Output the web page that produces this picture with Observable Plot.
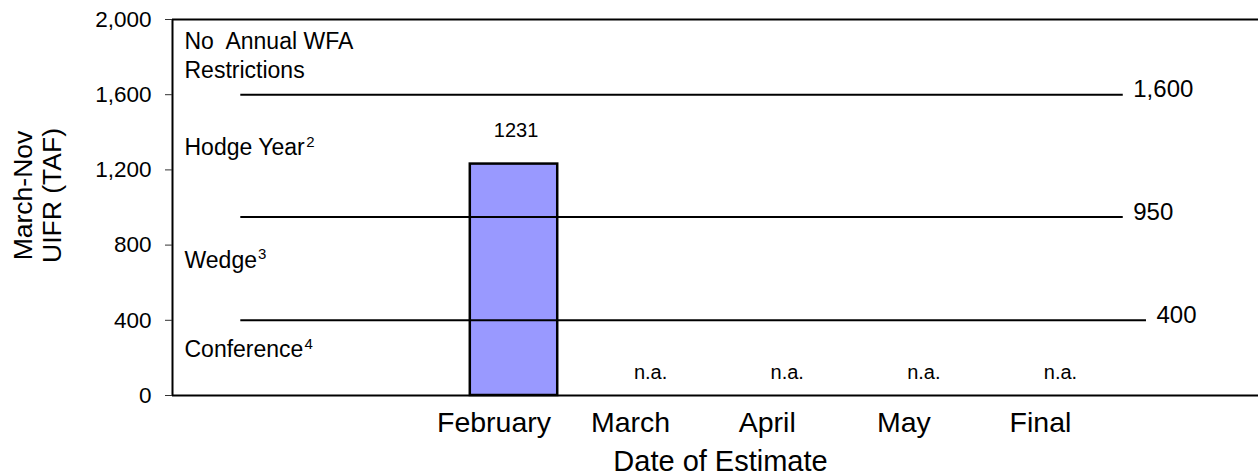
<!DOCTYPE html>
<html><head><meta charset="utf-8">
<script src="https://cdn.jsdelivr.net/npm/d3@7"></script>
<script src="https://cdn.jsdelivr.net/npm/@observablehq/plot@0.6"></script>
<style>
html,body{margin:0;padding:0;background:#fff;}
svg text{white-space:pre;}
</style></head><body><div id="chart"></div>
<script>
const categories = ["February", "March", "April", "May", "Final"];
const values = [1231, null, null, null, null];
const thresholds = [1600, 950, 400];
const zoneLabels = ["No  Annual WFA\nRestrictions", "Hodge Year", "Wedge", "Conference"];
const zoneNotes = ["", "2", "3", "4"];
const yTicks = [0, 400, 800, 1200, 1600, 2000];
const yTitle = "March-Nov\nUIFR (TAF)";
const xTitle = "Date of Estimate";
const naText = "n.a.";

const lead = 2; // empty slots before the first category
const slot = i => lead + i;
const data = categories.map((c, i) => ({category: c, x: slot(i), value: values[i]}));
const bounds = [2000, ...thresholds, 0];
const font = "'Liberation Sans', Arial, Helvetica, sans-serif";
const labelSize = 23;
const ctx = document.createElement("canvas").getContext("2d");
ctx.font = `${labelSize}px ${font}`;
const zones = zoneLabels.map((label, i) => ({
  label, note: zoneNotes[i], mid: (bounds[i] + bounds[i + 1]) / 2,
  w: ctx.measureText(label).width
}));
const fmt = d3.format(",");
const halfBar = 0.32;
const lineStart = 0;
const lastSlot = slot(categories.length - 1);
// the lowest reference line runs a little further right than the others
const lineEnd = v => lastSlot + (v === 400 ? 0.63 : 0.46);

const chart = Plot.plot({
  width: 1258, height: 476,
  marginLeft: 172, marginRight: 0, marginTop: 19, marginBottom: 81,
  style: {fontFamily: font, color: "#000", background: "#fff", overflow: "visible"},
  x: {domain: [-0.5, slot(categories.length) + 0.45], axis: null},
  y: {domain: [0, 2000], axis: null},
  marks: [
    Plot.rect(data.filter(d => d.value != null), {
      x1: d => d.x - halfBar, x2: d => d.x + halfBar, y1: 0, y2: "value",
      fill: "#9999ff", stroke: "#000", strokeWidth: 2.5
    }),
    Plot.ruleY(thresholds, {x1: lineStart, x2: lineEnd, y: d => d, stroke: "#000", strokeWidth: 2}),
    Plot.ruleY([0, 2000], {stroke: "#000", strokeWidth: 2}),
    Plot.ruleX([-0.5], {stroke: "#000", strokeWidth: 2}),
    Plot.axisY(yTicks, {label: null, tickSize: 7, tickPadding: 14, fontSize: 22.5, tickFormat: fmt, stroke: "#333", strokeWidth: 1}),
    Plot.axisX(data.map(d => d.x), {label: null, tickSize: 0, tickPadding: 16, fontSize: 28.5, tickFormat: x => categories[x - lead], dx: -20}),
    Plot.text([yTitle], {frameAnchor: "left", rotate: -90, dx: -135, dy: -12, fontSize: 26.5, lineHeight: 1.06, textAnchor: "middle", lineAnchor: "middle"}),
    Plot.text([xTitle], {frameAnchor: "bottom", dx: 5, dy: 75, lineAnchor: "bottom", fontSize: 29}),
    Plot.text(zones.slice(0, 1), {x: -0.5, y: "mid", text: "label", textAnchor: "start", dx: 12, dy: -3, lineHeight: 1.25, fontSize: labelSize}),
    Plot.text(zones.slice(1), {x: -0.5, y: "mid", text: "label", textAnchor: "start", dx: 12, dy: -8, fontSize: labelSize}),
    ...zones.slice(1).map(z => Plot.text([z], {x: -0.5, y: "mid", text: "note", textAnchor: "start", dx: 12 + z.w + 1, dy: -14, fontSize: 15})),
    Plot.text(thresholds, {x: lineEnd, y: d => d, text: d => fmt(d), textAnchor: "start", dx: 10, dy: -5, fontSize: 24}),
    Plot.text(data.filter(d => d.value != null), {x: "x", y: "value", text: d => String(d.value), lineAnchor: "bottom", dx: 2, dy: -27, fontSize: 20}),
    Plot.text(data.filter(d => d.value == null), {x: "x", y: 0, text: () => naText, lineAnchor: "bottom", dy: -17, fontSize: 20})
  ]
});
document.getElementById("chart").appendChild(chart);
</script></body></html>
